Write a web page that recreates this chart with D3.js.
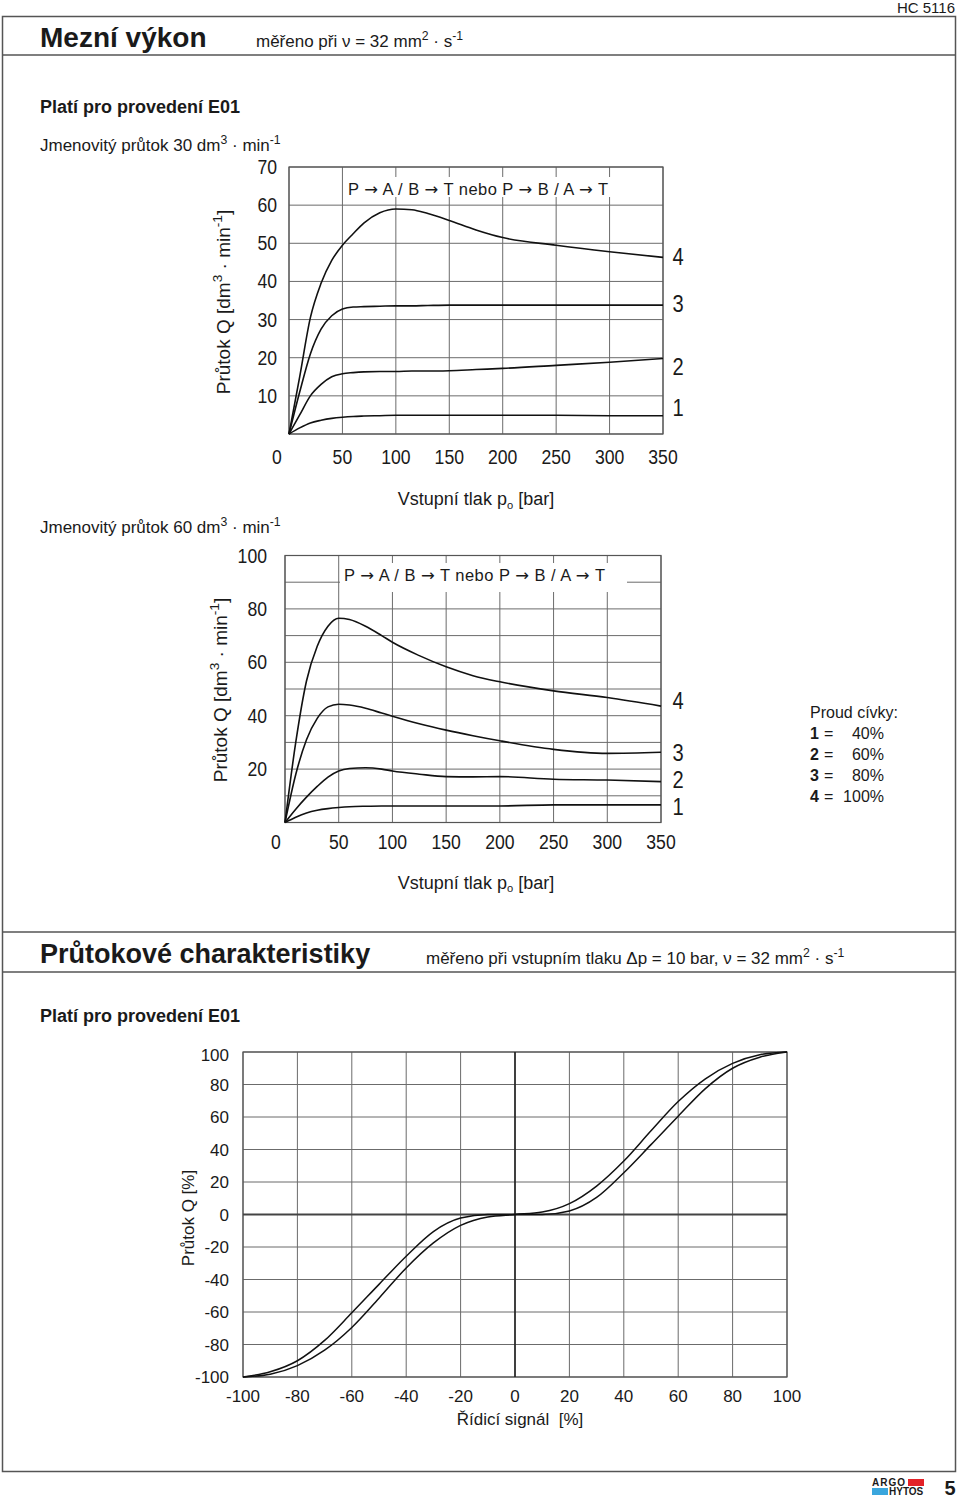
<!DOCTYPE html>
<html><head><meta charset="utf-8">
<script src="https://cdn.jsdelivr.net/npm/d3@7"></script>
<style>
html,body{margin:0;padding:0;background:#fff;}
svg{display:block;}
text{font-family:"Liberation Sans",Arial,Helvetica,sans-serif;fill:#1a1a1a;}
</style></head>
<body>
<script>
// ---------- DATA ----------
// Chart 1: Mezní výkon, jmenovitý průtok 30 dm3/min
const pressure1 = [0,10,20,30,40,50,60,70,85,100,115,130,150,175,200,250,300,350];
const q30_4 = [0,15,30.5,39.5,45.5,49.5,52.5,55.3,58,59,58.8,57.8,56,53.5,51.5,49.5,47.8,46.3];
const q30_3 = [0,11,21,27.5,31,32.8,33.3,33.4,33.5,33.6,33.6,33.7,33.8,33.8,33.8,33.8,33.8,33.8];
const q30_2 = [0,5,10,13,15,15.8,16.1,16.3,16.4,16.4,16.5,16.5,16.6,16.9,17.2,18,18.8,19.8];
const q30_1 = [0,1.6,2.9,3.6,4.1,4.4,4.6,4.7,4.8,4.9,4.9,4.9,4.9,4.9,4.9,4.9,4.8,4.8];
const xTicks1 = [0,50,100,150,200,250,300,350];
const yTicks1 = [10,20,30,40,50,60,70];

// Chart 2: jmenovitý průtok 60 dm3/min
const pressure2 = [0,10,20,30,40,50,60,75,90,100,125,150,175,200,250,300,350];
const q60_4 = [0,30,53,66,73.5,76.5,76,73.5,70,67.5,62.5,58.3,55,52.7,49.3,46.8,43.6];
const q60_3 = [0,18,31,39,43.3,44.3,44,42.8,41,39.8,37,34.6,32.5,30.6,27.4,25.9,26.3];
const q60_2 = [0,5,9.5,13.5,17,19.3,20.2,20.5,20,19.3,18.1,17.2,17.1,17.2,16.2,15.9,15.3];
const q60_1 = [0,2,3.6,4.6,5.2,5.6,5.9,6.1,6.2,6.2,6.2,6.2,6.2,6.2,6.6,6.6,6.6];
const xTicks2 = [0,50,100,150,200,250,300,350];
const yTicks2 = [20,40,60,80,100];
const curveNames = ["1","2","3","4"];
const legendCurrent = ["40%","60%","80%","100%"];

// Chart 3: Průtokové charakteristiky
const signal = [-100,-90,-80,-70,-60,-50,-40,-30,-20,-10,0,10,20,30,40,50,60,70,80,90,100];
const flowA = [-100,-98.3,-93,-83.5,-69.5,-51.5,-32.9,-17.5,-6.7,-1.5,0,1.5,6.7,17.5,32.9,51.5,69.5,83.5,93,98.3,100];
const flowB = [-100,-96.8,-90,-77.5,-60.5,-43,-25.7,-10.5,-2.2,0,0,0,2.2,10.5,25.7,43,60.5,77.5,90,96.8,100];
const ticks3 = [-100,-80,-60,-40,-20,0,20,40,60,80,100];

// ---------- DRAW ----------
const W = 960, H = 1501;
const svg = d3.select("body").append("svg").attr("width", W).attr("height", H);

function rich(sel, parts, base) {
  let shift = 0;
  parts.forEach(([t, k]) => {
    const ts = sel.append("tspan").text(t);
    let target = 0;
    if (k === "sup") { target = -base * 0.42; ts.attr("font-size", base * 0.72); }
    if (k === "sub") { target = base * 0.22; ts.attr("font-size", base * 0.62); }
    if (k === "arrow") { ts.attr("font-family", "DejaVu Sans").attr("font-size", base); }
    if (target !== shift) { ts.attr("dy", target - shift); shift = target; }
  });
  return sel;
}
function txt(x, y, size, opts = {}) {
  const t = svg.append("text").attr("x", x).attr("y", y).attr("font-size", size);
  if (opts.bold) t.attr("font-weight", "bold");
  if (opts.anchor) t.attr("text-anchor", opts.anchor);
  return t;
}
// condensed text (Helvetica Narrow look) via horizontal scaling
function ntxt(sel, x, y, size, anchor, s) {
  return sel.append("text").attr("transform", `translate(${x},${y}) scale(0.84,1)`)
    .attr("font-size", size).attr("text-anchor", anchor).text(s);
}

// Page frame
svg.append("text").attr("x", 955).attr("y", 13).attr("font-size", 15).attr("text-anchor", "end").text("HC 5116");
svg.append("rect").attr("x", 2.5).attr("y", 16.5).attr("width", 953).attr("height", 1455)
  .attr("fill", "none").attr("stroke", "#555").attr("stroke-width", 1.5);
[55, 932, 972].forEach(y => svg.append("line").attr("x1", 2.5).attr("x2", 955.5).attr("y1", y).attr("y2", y)
  .attr("stroke", "#555").attr("stroke-width", 1.5));

// Header 1
txt(40, 47, 28, {bold: true}).text("Mezní výkon");
rich(txt(256, 47, 17), [["měřeno při ν = 32 mm", ""], ["2", "sup"], [" · s", ""], ["-1", "sup"]], 17);
txt(40, 112.5, 18, {bold: true}).text("Platí pro provedení E01");
rich(txt(40, 151, 17), [["Jmenovitý průtok 30 dm", ""], ["3", "sup"], [" · min", ""], ["-1", "sup"]], 17);
rich(txt(40, 533, 17), [["Jmenovitý průtok 60 dm", ""], ["3", "sup"], [" · min", ""], ["-1", "sup"]], 17);

// Header 2
txt(40, 963, 27, {bold: true}).text("Průtokové charakteristiky");
rich(txt(426, 964, 17), [["měřeno při vstupním tlaku  Δp = 10 bar, ν = 32 mm", ""], ["2", "sup"], [" · s", ""], ["-1", "sup"]], 17);
txt(40, 1021.5, 18, {bold: true}).text("Platí pro provedení E01");

const gridColor = "#6b6b6b";
const line = (x, y) => d3.line().x(d => x(d[0])).y(d => y(d[1])).curve(d3.curveMonotoneX);

function pressureChart(cfg) {
  const x = d3.scaleLinear().domain([0, 350]).range(cfg.xr);
  const y = d3.scaleLinear().domain([0, cfg.ymax]).range(cfg.yr);
  const g = svg.append("g");
  g.selectAll(null).data(d3.range(0, 351, 50)).join("line")
    .attr("x1", d => x(d)).attr("x2", d => x(d)).attr("y1", cfg.yr[0]).attr("y2", cfg.yr[1])
    .attr("stroke", gridColor).attr("stroke-width", 1);
  g.selectAll(null).data(d3.range(0, cfg.ymax + 1, 10)).join("line")
    .attr("x1", cfg.xr[0]).attr("x2", cfg.xr[1]).attr("y1", d => y(d)).attr("y2", d => y(d))
    .attr("stroke", gridColor).attr("stroke-width", 1);
  g.append("rect").attr("x", cfg.xr[0]).attr("y", cfg.yr[1]).attr("width", cfg.xr[1] - cfg.xr[0])
    .attr("height", cfg.yr[0] - cfg.yr[1]).attr("fill", "none").attr("stroke", "#555").attr("stroke-width", 1.2);
  g.append("rect").attr("x", cfg.box[0]).attr("y", cfg.box[1]).attr("width", cfg.box[2]).attr("height", cfg.box[3]).attr("fill", "#fff");
  const ann = svg.append("text").attr("x", cfg.box[0] + 4).attr("y", cfg.boxText).attr("font-size", 16.5)
    .attr("textLength", cfg.annLen).attr("lengthAdjust", "spacing");
  rich(ann, [["P ", ""], ["→", "arrow"], [" A / B ", ""], ["→", "arrow"], [" T nebo P ", ""], ["→", "arrow"],
             [" B / A ", ""], ["→", "arrow"], [" T", ""]], 16.5);
  cfg.series.forEach(s => {
    g.append("path").attr("d", line(x, y)(cfg.px.map((p, i) => [p, s[i]])))
      .attr("fill", "none").attr("stroke", "#111").attr("stroke-width", 1.6);
  });
  cfg.xticks.forEach(d => ntxt(svg, x(d) + (d === 0 ? cfg.zeroDx : 0), cfg.xLabY, 21, "middle", d));
  cfg.yticks.forEach(d => ntxt(svg, cfg.yLabX, y(d) + 7, 21, "end", d));
  curveNames.forEach((d, i) => ntxt(svg, 678, cfg.numY[i] + 8.5, 24, "middle", d));
  const yt = svg.append("text").attr("font-size", 19).attr("text-anchor", "middle")
    .attr("transform", `translate(${cfg.yTitle[0]},${cfg.yTitle[1]}) rotate(-90)`);
  rich(yt, [["Průtok Q [dm", ""], ["3", "sup"], [" · min", ""], ["-1", "sup"], ["]", ""]], 19);
  const xt = svg.append("text").attr("x", 476).attr("y", cfg.xTitleY).attr("font-size", 18).attr("text-anchor", "middle");
  rich(xt, [["Vstupní tlak p", ""], ["o", "sub"], [" [bar]", ""]], 18);
}

pressureChart({
  xr: [289, 663], yr: [434, 167], ymax: 70, px: pressure1,
  series: [q30_4, q30_3, q30_2, q30_1],
  box: [344, 177, 267, 20], boxText: 195, annLen: 260,
  xticks: xTicks1, yticks: yTicks1, zeroDx: -12, xLabY: 464, yLabX: 277,
  numY: [407, 366, 303, 256], yTitle: [230, 302], xTitleY: 505
});
pressureChart({
  xr: [285, 661], yr: [822.5, 555.5], ymax: 100, px: pressure2,
  series: [q60_4, q60_3, q60_2, q60_1],
  box: [340, 563, 287, 29], boxText: 581, annLen: 261,
  xticks: xTicks2, yticks: yTicks2, zeroDx: -9, xLabY: 849, yLabX: 267,
  numY: [806, 779, 752, 700], yTitle: [227, 690], xTitleY: 888.5
});

// Legend
txt(810, 718, 16).text("Proud cívky:");
legendCurrent.forEach((v, i) => {
  const yy = 739 + i * 21;
  txt(810, yy, 16, {bold: true}).text(curveNames[i]);
  txt(824, yy, 16).text("=");
  txt(884, yy, 16, {anchor: "end"}).text(v);
});

// Chart 3
{
  const x = d3.scaleLinear().domain([-100, 100]).range([243, 787]);
  const y = d3.scaleLinear().domain([-100, 100]).range([1377, 1052]);
  const g = svg.append("g");
  g.selectAll(null).data(ticks3).join("line")
    .attr("x1", d => x(d)).attr("x2", d => x(d)).attr("y1", y(-100)).attr("y2", y(100))
    .attr("stroke", gridColor).attr("stroke-width", 1);
  g.selectAll(null).data(ticks3).join("line")
    .attr("x1", x(-100)).attr("x2", x(100)).attr("y1", d => y(d)).attr("y2", d => y(d))
    .attr("stroke", gridColor).attr("stroke-width", 1);
  g.append("rect").attr("x", x(-100)).attr("y", y(100)).attr("width", x(100) - x(-100)).attr("height", y(-100) - y(100))
    .attr("fill", "none").attr("stroke", "#555").attr("stroke-width", 1.2);
  g.append("line").attr("x1", x(-100)).attr("x2", x(100)).attr("y1", y(0)).attr("y2", y(0)).attr("stroke", "#444").attr("stroke-width", 2.2);
  g.append("line").attr("x1", x(0)).attr("x2", x(0)).attr("y1", y(-100)).attr("y2", y(100)).attr("stroke", "#222").attr("stroke-width", 1.6);
  [flowA, flowB].forEach(s => {
    g.append("path").attr("d", line(x, y)(signal.map((v, i) => [v, s[i]])))
      .attr("fill", "none").attr("stroke", "#111").attr("stroke-width", 1.5);
  });
  svg.selectAll(null).data(ticks3).join("text").attr("x", d => x(d)).attr("y", 1402).attr("font-size", 17)
    .attr("text-anchor", "middle").text(d => d);
  svg.selectAll(null).data(ticks3).join("text").attr("x", 229).attr("y", d => y(d) + 6 + (d === 100 ? 3 : 0)).attr("font-size", 17)
    .attr("text-anchor", "end").text(d => d);
  svg.append("text").attr("font-size", 17).attr("text-anchor", "middle")
    .attr("transform", `translate(194,1218) rotate(-90)`).text("Průtok Q [%]");
  svg.append("text").attr("x", 520).attr("y", 1425).attr("font-size", 17).attr("text-anchor", "middle")
    .attr("xml:space", "preserve").text("Řídicí signál  [%]");
}

// Logo and page number
svg.append("rect").attr("x", 908).attr("y", 1479).attr("width", 16).attr("height", 7).attr("fill", "#e32228");
svg.append("rect").attr("x", 872).attr("y", 1488).attr("width", 16).attr("height", 7).attr("fill", "#3aa6dd");
txt(872, 1486, 10, {bold: true}).attr("letter-spacing", 1).text("ARGO");
txt(889, 1495, 10, {bold: true}).text("HYTOS");
txt(950, 1495, 20, {bold: true, anchor: "middle"}).text("5");
</script>
</body></html>
